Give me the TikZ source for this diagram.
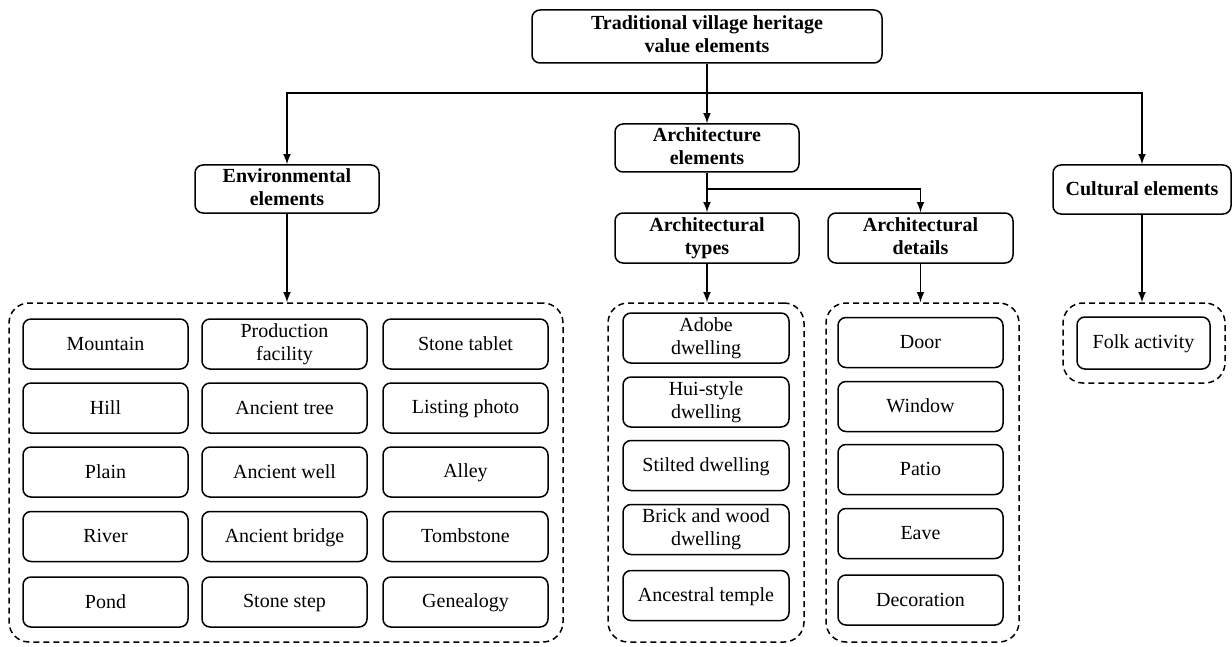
\documentclass[tikz,border=0pt]{standalone}
\usepackage{fontspec}
\setmainfont{Liberation Serif}
\newfontfamily\timesrm{Liberation Serif}
\usepackage{tikz}
\usetikzlibrary{shapes, arrows, positioning, calc}

\newcommand{\boxstrut}{\rule[-2pt]{0pt}{10pt}}

\tikzset{
  head/.style={draw, rounded corners=4pt, line width=0.75pt, align=center,
    inner sep=1pt, font=\timesrm\fontsize{10}{11.5}\selectfont\bfseries,
    execute at begin node=\boxstrut, execute at end node=\boxstrut},
  leaf/.style={draw, rounded corners=4pt, line width=0.75pt, align=center,
    inner sep=1pt, minimum width=82.5pt, minimum height=25pt,
    font=\timesrm\fontsize{10}{11.5}\selectfont,
    execute at begin node=\boxstrut, execute at end node=\boxstrut},
  group/.style={draw, dash pattern=on 3pt off 2pt, rounded corners=10pt,
    line width=0.75pt, minimum height=169.5pt}
}

\begin{document}
\begin{tikzpicture}[x=0.5pt, y=-0.5pt, >=latex, line width=0.75pt]
  \useasboundingbox (0,0) rectangle (1232,647);

  % headings
  \node[head, minimum width=175pt, minimum height=26.5pt] (root) at (707,36.5) {Traditional village heritage\\value elements};
  \node[head, minimum width=92pt, minimum height=24pt] (arch) at (707,148) {Architecture\\elements};
  \node[head, minimum width=92pt, minimum height=24pt] (env) at (287,189) {Environmental\\elements};
  \node[head, minimum width=89pt, minimum height=24.5pt] (cult) at (1142,189.5) {Cultural elements};
  \node[head, minimum width=92pt, minimum height=25pt] (types) at (707,238) {Architectural\\types};
  \node[head, minimum width=92.5pt, minimum height=25pt] (details) at (920.5,238) {Architectural\\details};

  % dashed groups
  \node[group, minimum width=277pt] (envbox) at (286,472.5) {};
  \node[group, minimum width=98pt] (typebox) at (706,472.5) {};
  \node[group, minimum width=96.5pt] (detailbox) at (922.5,472.5) {};
  \node[group, minimum width=81pt, minimum height=40pt] (cultbox) at (1144,343) {};

  % connectors
  \coordinate (split) at (707,93);
  \coordinate (archsplit) at (707,189);
  \draw[->] (root.south) -- (arch.north);
  \draw[->] (split) -| (env.north);
  \draw[->] (split) -| (cult.north);
  \draw[->] (arch.south) -- (types.north);
  \draw[->] (archsplit) -| (details.north);
  \draw[->] (env.south) -- (env.south |- envbox.north);
  \draw[->] (types.south) -- (types.south |- typebox.north);
  \draw[->] (details.south) -- (details.south |- detailbox.north);
  \draw[->] (cult.south) -- (cult.south |- cultbox.north);

  % environmental elements
  \foreach \y/\a/\b/\c [count=\i] in {344/Mountain/{Production\\facility}/Stone tablet,
      408/Hill/Ancient tree/Listing photo, 472/Plain/Ancient well/Alley,
      536.5/River/Ancient bridge/Tombstone, 602/Pond/Stone step/Genealogy}
  {
    \node[leaf] (env-\i-1) at (105.5,\y) {\a};
    \node[leaf] (env-\i-2) at (284.5,\y) {\b};
    \node[leaf] (env-\i-3) at (465.5,\y) {\c};
  }

  % architectural types
  \foreach \y/\t [count=\i] in {338/{Adobe\\dwelling}, 402/{Hui-style\\dwelling},
      465.5/Stilted dwelling, 529.5/{Brick and wood\\dwelling}, 595.5/Ancestral temple}
    \node[leaf, minimum width=83pt] (type-\i) at (706,\y) {\t};

  % architectural details
  \foreach \y/\t [count=\i] in {342.5/Door, 406.5/Window, 469.5/Patio, 533.5/Eave, 600/Decoration}
    \node[leaf] (detail-\i) at (920.5,\y) {\t};

  % cultural elements
  \node[leaf, minimum width=66.5pt, minimum height=26pt] (folk) at (1143.5,343) {Folk activity};
\end{tikzpicture}
\end{document}
